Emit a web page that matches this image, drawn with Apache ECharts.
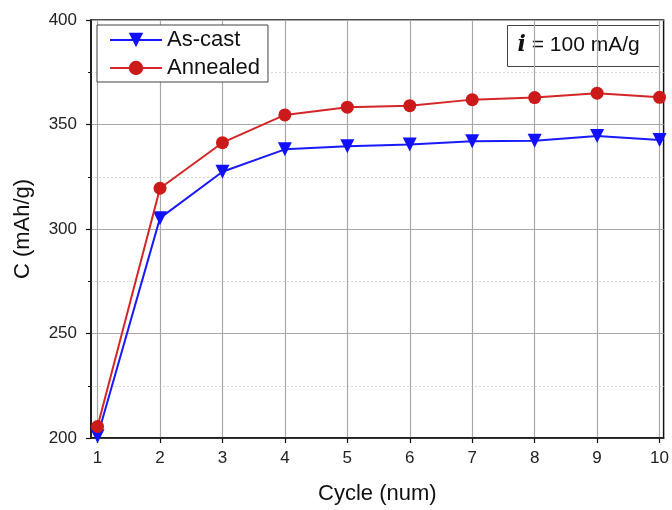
<!DOCTYPE html>
<html>
<head>
<meta charset="utf-8">
<script src="https://cdn.jsdelivr.net/npm/echarts@6/dist/echarts.min.js"></script>
<style>html,body{margin:0;padding:0;background:#fff}#c{width:672px;height:510px}</style>
</head>
<body>
<div id="c"></div>
<script>
const cycles = [1,2,3,4,5,6,7,8,9,10];
const asCast = [200.8, 305.2, 327.4, 338.1, 339.6, 340.4, 342, 342.2, 344.5, 342.6];
const annealed = [205.5, 319.5, 341.3, 354.6, 358.3, 359, 361.9, 362.9, 365, 363];
const yTicks = [200, 250, 300, 350, 400];
const xTicks = cycles;

const chart = echarts.init(document.getElementById('c'), null, {renderer: 'canvas'});
const font = 'Liberation Sans, Arial, sans-serif';
chart.setOption({
  animation: false,
  backgroundColor: '#fff',
  grid: {left: 91, right: 7, top: 20, bottom: 68.5, show: true, borderColor: '#111', borderWidth: 1.5, containLabel: false},
  legend: {
    show: true, orient: 'vertical', left: 97, top: 25,
    itemWidth: 52, itemHeight: 18, itemGap: 6,
    borderColor: '#444', borderWidth: 1, padding: [4, 8, 3, 12], backgroundColor: '#fff',
    textStyle: {fontFamily: font, fontSize: 22, color: '#111'},
    data: ['As-cast', 'Annealed']
  },
  xAxis: {
    type: 'value', min: 0.895, max: 10.065,
    name: 'Cycle (num)', nameLocation: 'middle', nameGap: 45,
    nameTextStyle: {fontFamily: font, fontSize: 22, color: '#111'},
    axisLine: {show: true, onZero: false, lineStyle: {color: '#111', width: 1.5}},
    axisTick: {show: true, inside: false, length: 5, customValues: xTicks, lineStyle: {color: '#111', width: 1.2}},
    axisLabel: {customValues: xTicks, fontFamily: font, fontSize: 17, color: '#222', margin: 12},
    splitLine: {show: true, lineStyle: {color: '#a8a8a8', width: 1.2}}
  },
  yAxis: {
    type: 'value', min: yTicks[0], max: yTicks[yTicks.length-1], interval: 50,
    name: 'C (mAh/g)', nameLocation: 'middle', nameGap: 57,
    nameTextStyle: {fontFamily: font, fontSize: 22, color: '#111'},
    axisLine: {show: true, onZero: false, lineStyle: {color: '#111', width: 1.5}},
    axisTick: {show: true, inside: false, length: 5, lineStyle: {color: '#111', width: 1.2}},
    minorTick: {show: true, splitNumber: 2, length: 3, lineStyle: {color: '#111', width: 1}},
    axisLabel: {fontFamily: font, fontSize: 17, color: '#222', margin: 14},
    splitLine: {show: true, lineStyle: {color: '#a8a8a8', width: 1.2}},
    minorSplitLine: {show: true, lineStyle: {color: '#d8d8d8', width: 1, type: [2, 2]}}
  },
  series: [
    {
      name: 'As-cast', type: 'line', data: cycles.map((c, i) => [c, asCast[i]]),
      symbol: 'triangle', symbolRotate: 180, symbolSize: 14,
      lineStyle: {color: '#1a1aff', width: 2}, itemStyle: {color: '#1010ff'}, z: 3
    },
    {
      name: 'Annealed', type: 'line', data: cycles.map((c, i) => [c, annealed[i]]),
      symbol: 'circle', symbolSize: 13,
      lineStyle: {color: '#d42626', width: 2}, itemStyle: {color: '#cc1a1a'}, z: 4
    }
  ],
  graphic: [
    {
      type: 'group', left: 507, top: 25,
      children: [
        {type: 'rect', shape: {x: 0, y: 0, width: 152, height: 41}, style: {fill: '#fff', stroke: '#444', lineWidth: 1}},
        {type: 'text', x: 10, y: 9, style: {
          text: '{i|i} = 100 mA/g', fill: '#111', font: '21px ' + font,
          rich: {i: {fontFamily: 'DejaVu Serif, serif', fontWeight: 'bold', fontStyle: 'italic', fontSize: 22, fill: '#111'}}
        }}
      ]
    }
  ]
});
</script>
</body>
</html>
